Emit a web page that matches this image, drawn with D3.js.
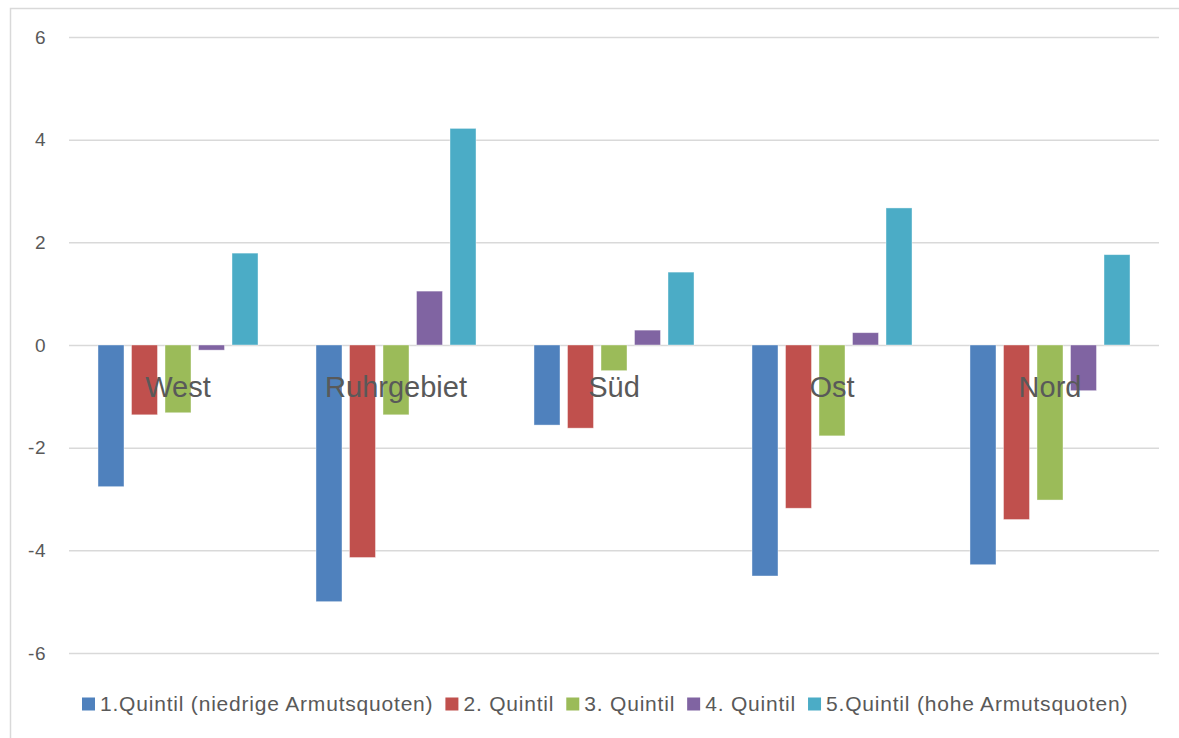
<!DOCTYPE html>
<html>
<head>
<meta charset="utf-8">
<script src="https://cdn.jsdelivr.net/npm/d3@7"></script>
<style>
  body { margin: 0; background: #fff; }
  svg { display: block; font-family: "Liberation Sans", Arial, sans-serif; }
</style>
</head>
<body>
<script>

// Regions (categories) and the five quintile series
const regions = ["West", "Ruhrgebiet", "Süd", "Ost", "Nord"];
const seriesNames = ["1.Quintil (niedrige Armutsquoten)", "2. Quintil", "3. Quintil", "4. Quintil", "5.Quintil (hohe Armutsquoten)"];
const seriesColors = ["#4f81bd", "#c0504d", "#9bbb59", "#8064a2", "#4bacc6"];

const q1 = [-2.76, -5.00, -1.56, -4.50, -4.28];
const q2 = [-1.36, -4.14, -1.62, -3.18, -3.40];
const q3 = [-1.32, -1.36, -0.50, -1.77, -3.02];
const q4 = [-0.10, 1.05, 0.29, 0.24, -0.89];
const q5 = [1.79, 4.22, 1.42, 2.67, 1.76];

const yTicks = [-6, -4, -2, 0, 2, 4, 6];

function drawChart(){

    const width = 1179;
    const height = 738;
    const marginTop = 37;
    const marginLeft = 69;
    const marginRight = 20;
    const plotBottom = 653;

    const series = [q1, q2, q3, q4, q5];

    const svg = d3.select("body").append("svg")
        .attr("width", width)
        .attr("height", height);

    // chart frame (right/bottom edges run past the picture)
    svg.append("rect")
        .attr("x", 10.5)
        .attr("y", 8.5)
        .attr("width", width + 20)
        .attr("height", height + 20)
        .attr("fill", "#fff")
        .attr("stroke", "#d9d9d9")
        .attr("stroke-width", 1.5);

    const x0 = d3.scaleBand()
        .domain(regions)
        .range([marginLeft, width - marginRight])
        .paddingInner(0.266)
        .paddingOuter(0.133);

    const x1 = d3.scaleBand()
        .domain(d3.range(series.length))
        .range([0, x0.bandwidth()])
        .paddingInner(0.224);

    const y = d3.scaleLinear()
        .domain([-6, 6])
        .range([plotBottom, marginTop]);

    // grid lines and tick labels
    svg.append("g")
        .attr("transform", `translate(${marginLeft},0)`)
        .call(d3.axisLeft(y).tickValues(yTicks).tickSize(0).tickPadding(23)
            .tickFormat(d => d < 0 ? "-" + Math.abs(d) : String(d)))
        .call(g => g.select(".domain").remove())
        .call(g => g.selectAll(".tick text")
            .attr("font-size", 19)
            .attr("font-family", "Liberation Sans, Arial, sans-serif")
            .attr("letter-spacing", 0.5)
            .attr("fill", "#595959"))
        .call(g => g.selectAll(".tick line").clone()
            .attr("x2", width - marginLeft - marginRight)
            .attr("stroke", "#d9d9d9")
            .attr("stroke-width", 1.5));

    // bars
    const groups = svg.append("g")
        .selectAll("g")
        .data(regions)
        .join("g")
        .attr("transform", d => `translate(${x0(d)},0)`);

    groups.selectAll("rect")
        .data((d, i) => series.map((s, k) => ({k: k, v: s[i]})))
        .join("rect")
        .attr("x", d => x1(d.k))
        .attr("width", x1.bandwidth())
        .attr("y", d => y(Math.max(0, d.v)))
        .attr("height", d => Math.abs(y(d.v) - y(0)))
        .attr("fill", d => seriesColors[d.k])
        .attr("stroke", "#fff")
        .attr("stroke-opacity", 0.5)
        .attr("stroke-width", 0.8);

    // category labels sit just under the zero line
    svg.append("g")
        .selectAll("text")
        .data(regions)
        .join("text")
        .attr("x", d => x0(d) + x0.bandwidth() / 2)
        .attr("y", y(0) + 52)
        .attr("text-anchor", "middle")
        .attr("font-size", 29)
        .attr("fill", "#595959")
        .text(d => d);

    // legend
    const legend = svg.append("g")
        .attr("transform", "translate(82,704)");

    let lx = 0;
    seriesNames.forEach(function(name, i){
        legend.append("rect")
            .attr("x", lx)
            .attr("y", -6.5)
            .attr("width", 13)
            .attr("height", 13)
            .attr("fill", seriesColors[i]);

        const t = legend.append("text")
            .attr("x", lx + 18)
            .attr("y", 0)
            .attr("dy", "0.35em")
            .attr("font-size", 21)
            .attr("letter-spacing", 0.8)
            .attr("fill", "#595959")
            .text(name);

        lx += 18 + t.node().getComputedTextLength() + 12;
    });
}

drawChart();
</script>
</body>
</html>
